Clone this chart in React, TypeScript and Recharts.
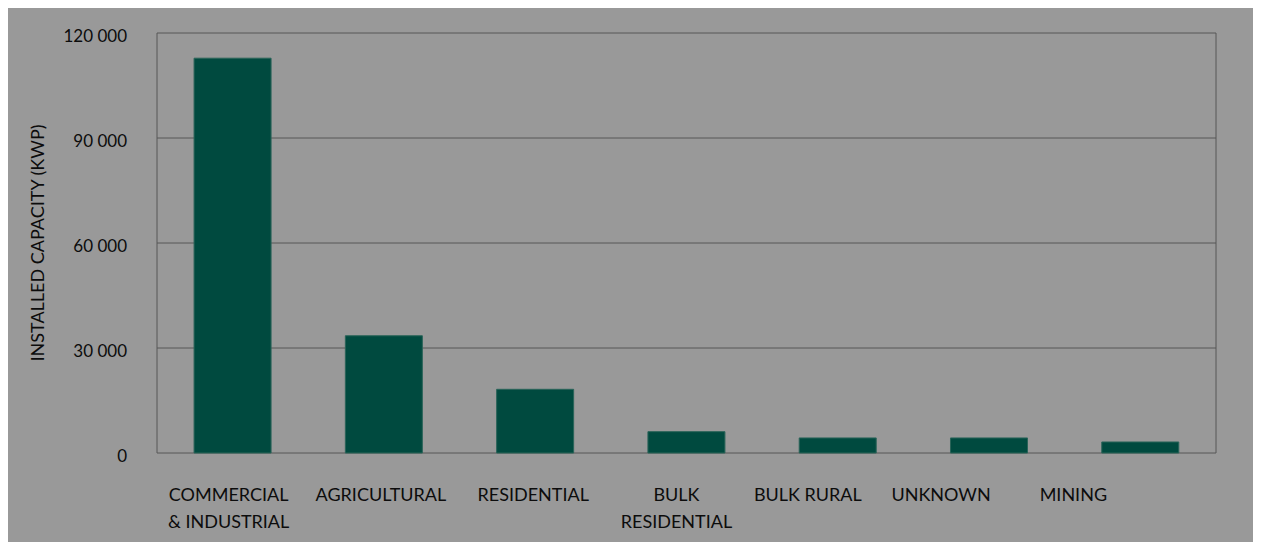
import React from 'react';
import { BarChart, Bar, XAxis, YAxis, CartesianGrid } from 'recharts';

const categories = [
  'COMMERCIAL\n& INDUSTRIAL',
  'AGRICULTURAL',
  'RESIDENTIAL',
  'BULK\nRESIDENTIAL',
  'BULK RURAL',
  'UNKNOWN',
  'MINING',
];
const capacity = [112800, 33500, 18200, 6100, 4300, 4300, 3150];
const yTicks = [0, 30000, 60000, 90000, 120000];

// the source labels drift left of their bars towards the right side
const tickShift = [-4, -3, -2, -10, -30, -48, -67];

const data = categories.map((name, i) => ({ name, kwp: capacity[i] }));

const font = 'Lato, "Open Sans", sans-serif';
const textColor = '#0c0c0c';
const lineColor = '#575757';

const fmt = (v: number) => String(v).replace(/\B(?=(\d{3})+(?!\d))/g, ' ');

const CategoryTick = (props: any) => {
  const { x, y, payload, index } = props;
  const lines = String(payload.value).split('\n');
  const cx = x + (tickShift[index] || 0);
  return (
    <text x={cx} y={y} textAnchor="middle" fill={textColor} fontSize={18} fontFamily={font}>
      {lines.map((l, i) => (
        <tspan key={i} x={cx} y={y + 46 + i * 27}>
          {l}
        </tspan>
      ))}
    </text>
  );
};

export default function App() {
  return (
    <div style={{ width: 1253, height: 534, background: '#999999' }}>
      <BarChart
        width={1253}
        height={534}
        data={data}
        margin={{ top: 25, right: 45, left: 0, bottom: 0 }}
        barCategoryGap="24.5%"
      >
        <CartesianGrid
          stroke={lineColor}
          strokeWidth={1}
          verticalCoordinatesGenerator={({ offset }: any) => [offset.left, offset.left + offset.width]}
        />
        <XAxis
          dataKey="name"
          axisLine={false}
          tickLine={false}
          tickSize={0}
          interval={0}
          height={89}
          tick={<CategoryTick />}
        />
        <YAxis
          width={149}
          domain={[0, 120000]}
          ticks={yTicks}
          axisLine={false}
          tickLine={false}
          tickSize={0}
          tickMargin={30}
          tickFormatter={fmt}
          tick={{ fill: textColor, fontSize: 17, fontFamily: font, dy: 3 }}
          label={{
            value: 'INSTALLED CAPACITY (KWP)',
            angle: -90,
            position: 'insideLeft',
            offset: 30,
            style: { textAnchor: 'middle', fill: textColor, fontSize: 18, fontFamily: font },
          }}
        />
        <Bar dataKey="kwp" fill="#004a3f" stroke="#2a6459" strokeWidth={1} isAnimationActive={false} />
      </BarChart>
    </div>
  );
}
